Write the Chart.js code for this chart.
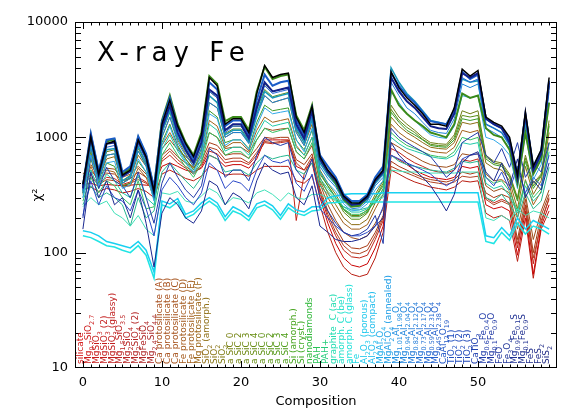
<!DOCTYPE html>
<html>
<head>
<meta charset="utf-8">
<script src="https://cdn.jsdelivr.net/npm/chart.js@4.4.0/dist/chart.umd.min.js"></script>
<style>
  html, body { margin: 0; padding: 0; background: #fff; }
  canvas { display: block; }
</style>
</head>
<body>
<canvas id="chart" width="581" height="415"></canvas>
<script>
// composition names (x = 0..59), _{..} marks a subscript
const compositions = [
  'silicate', 'Mg_{0.7}SiO_{2.7}', 'MgSiO_{3}', 'MgSiO_{3} (2)', 'MgSiO_{3} (glassy)',
  'Mg_{1.5}SiO_{3.5}', 'Mg_{2}SiO_{4}', 'Mg_{2}SiO_{4} (2)', 'MgFeSiO_{4}', 'Mg_{2.4}SiO_{4.4}',
  'Ca protosilicate (A)', 'Ca protosilicate (B)', 'Ca protosilicate (C)', 'Fe protosilicate (D)',
  'Fe protosilicate (E)', 'Mg protosilicate (F)', 'SiO_{2} (amorph.)', 'SiO_{2}', 'SiO_{2}',
  'a SiC 0', 'a SiC 2', 'a SiC 3', 'a SiC 4', 'a SiC 0', 'a SiC 2', 'a SiC 3', 'a SiC 4',
  'Si (amorph.)', 'Si (cryst.)', 'nanodiamonds', 'PAH', 'PAH+',
  'graphite  C (ac)', 'amorph. C (be)', 'amorph. C (glass)', 'Fe',
  'Al_{2}O_{3} (porous)', 'Al_{2}O_{3} (compact)', 'MgAl_{2}O_{4}', 'MgAl_{2}O_{4} (annealed)',
  'Mg_{1.01}Al_{1.98}O_{4}', 'Mg_{0.94}Al_{2.04}O_{4}', 'Mg_{0.82}Al_{2.12}O_{4}',
  'Mg_{0.73}Al_{2.17}O_{4}', 'Mg_{0.59}Al_{2.31}O_{4}', 'Mg_{0.45}Al_{2.38}O_{4}',
  'CaAl_{12}O_{19}', 'TiO_{2} (1)', 'TiO_{2} (2)', 'TiO_{2} (3)', 'CaTiO_{3}',
  'Mg_{0.6}Fe_{0.4}O', 'Mg_{0.1}Fe_{0.9}O', 'FeO', 'Fe_{3}O_{4}',
  'Mg_{0.9}Fe_{0.1}S', 'Mg_{0.1}Fe_{0.9}S', 'FeS', 'FeS_{2}', 'SiS_{2}'
];
const labelColors = [
  '#d41414', '#cc1a1a', '#c81c1c', '#c41e1e', '#c02020', '#bc2222', '#b82424', '#b42626', '#b02828', '#ac2a2a',
  '#a8501e', '#a8521e', '#a6541e', '#a45a1c', '#a25e1c', '#9c661a', '#907018', '#887616', '#807c14',
  '#7a8214', '#748614', '#6e8a14', '#688e14', '#629216', '#5c9618', '#569a1a', '#509e1c',
  '#48a420', '#40aa24', '#30b83a', '#28c456', '#24cc7a', '#20dcb0', '#20e0c8', '#20e0d8', '#20d8e4',
  '#20c8ec', '#20bcec', '#20acea', '#209ee6', '#208ee0', '#2084dc', '#207ad8', '#2070d4', '#2066d0', '#205ecc',
  '#2056c6', '#2050c0', '#204abb', '#2046b6', '#2040b0', '#203caa', '#2038a4', '#20369e', '#203498',
  '#203294', '#203090', '#202e8c', '#202c88', '#202a84'
];
const yTickValues = [10, 100, 1000, 10000];
const xTickValues = [0, 10, 20, 30, 40, 50];

// chi^2 per composition, one array per curve
const red1 = [390,400,380,390,385,380,385,390,385,380, 560,600,560,520,500,540,700,650,560,580, 580,540,650,950,950,950,950,560,520,600, 300,180,120,90,78,75,80,110,170,700, 640,580,520,480,450,440,430,450,560,540, 560,260,240,250,230,95,230,65,170,260];
const red2 = [420,470,400,450,440,390,410,450,410,360, 620,700,600,540,480,560,760,720,600,620, 620,580,700,900,880,900,920,190,480,650, 330,200,140,105,92,90,95,130,190,800, 740,660,600,560,520,500,490,520,640,620, 650,300,270,290,270,110,260,80,190,290];
const red3 = [350,370,340,360,350,330,340,360,340,300, 480,520,480,440,420,460,560,520,470,480, 480,460,520,560,560,560,560,420,400,460, 260,150,100,75,65,62,65,90,150,520, 480,440,410,390,370,360,350,370,420,410, 420,220,200,210,190,84,200,60,160,230];
const red4 = [450,520,430,490,480,420,440,500,450,380, 700,800,680,600,550,620,900,850,700,720, 720,660,800,1000,980,1000,1000,640,580,720, 360,230,165,125,110,108,115,150,210,620, 560,520,480,450,430,420,410,430,500,480, 500,330,300,320,300,130,290,100,210,320];
const red5 = [480,580,460,540,530,450,480,560,480,400, 800,950,780,680,600,700,1100,1000,800,820, 820,740,950,1200,1150,1180,1200,750,650,850, 400,260,190,150,135,130,140,180,240,900, 820,740,680,620,580,560,550,580,720,700, 720,380,340,360,330,160,320,130,230,350];
const brownRed = [400,450,390,430,420,380,400,430,400,350, 650,760,640,560,500,580,820,780,640,660, 660,600,740,920,900,920,940,600,520,680, 340,215,150,115,100,98,105,140,200,560, 520,490,460,430,410,400,390,410,460,450, 460,290,260,280,260,120,250,90,180,300];
const brown1 = [330,560,400,520,500,370,380,540,450,300, 850,1100,820,650,540,680,1400,1250,820,900, 900,760,1150,1500,1350,1400,1450,850,700,1000, 420,300,230,180,160,160,175,240,320,1300, 1100,980,900,820,760,740,730,820,1150,1100, 1150,480,420,430,380,200,430,260,340,900];
const olive1 = [350,800,450,750,780,420,470,800,600,320, 1150,1800,1100,800,620,900,2500,2200,1150,1250, 1250,1000,1900,2900,2500,2600,2700,1250,950,1500, 520,400,320,240,210,210,235,320,420,1900, 1500,1300,1150,1000,900,880,870,1050,1700,1600, 1700,700,620,600,480,300,700,400,480,1400];
const olive2 = [340,700,430,650,680,400,440,700,560,310, 1000,1500,950,720,560,800,2000,1800,1000,1100, 1100,900,1600,2300,2000,2100,2200,1100,850,1300, 450,330,260,200,175,175,195,270,360,1500, 1250,1100,1000,900,820,800,790,900,1350,1300, 1350,600,540,520,420,240,560,320,420,1100];
const olive3 = [330,750,430,700,720,400,450,760,580,310, 1100,1650,1000,760,600,860,2300,2000,1080,1180, 1180,950,1750,2600,2250,2350,2450,1150,900,1400, 500,380,300,225,195,195,220,300,400,1750, 1400,1220,1100,960,870,850,840,1000,1550,1500, 1550,680,600,580,460,290,660,380,470,1300];
const green1 = [320,650,400,600,560,380,400,620,500,290, 900,1300,850,650,520,750,1700,1500,900,950, 950,800,1350,1900,1700,1750,1800,950,780,1150, 480,380,300,235,205,205,225,300,380,1650, 1350,1150,1050,950,850,830,820,950,1450,1400, 1450,650,580,560,450,280,620,360,460,1250];
const green2 = [280,450,330,420,380,300,260,420,240,250, 700,900,700,550,450,600,1100,1000,700,750, 750,650,950,1200,1100,1150,1200,750,650,900, 420,340,290,240,215,215,230,280,340,1100, 950,850,800,750,700,680,670,750,1000,950, 1000,450,400,420,340,230,420,300,360,900];
const green3 = [260,380,300,330,300,260,170,300,200,230, 500,600,500,420,360,450,700,650,500,520, 520,470,600,700,650,680,700,520,480,600, 380,320,280,250,235,235,245,270,320,700, 620,580,560,540,520,510,500,540,620,600, 620,300,280,320,260,200,330,240,280,550];
const teal2 = [300,520,360,480,420,330,300,470,300,260, 780,1050,760,600,480,650,1300,1150,760,820, 820,700,1050,1400,1250,1300,1350,820,700,1000, 440,360,300,250,225,225,240,290,350,1000, 880,800,760,720,680,660,650,700,900,870, 900,400,360,380,310,220,380,280,330,750];
const cyan1 = [140,135,125,115,112,105,100,115,95,60, 260,245,275,200,215,250,280,250,190,230, 215,190,245,260,235,195,245,220,210,230, 235,270,272,275,275,275,275,275,275,275, 275,275,275,275,275,275,275,275,275,275, 275,125,120,150,128,180,145,170,160,145];
const cyan2 = [155,150,140,125,120,115,110,125,105,68, 280,265,295,215,230,270,300,270,205,250, 230,205,265,280,255,210,265,235,225,250, 250,300,310,320,325,325,325,325,330,330, 330,330,330,330,330,330,330,330,330,330, 330,140,135,165,140,200,160,190,175,160];
const cyan3 = [250,300,260,280,220,200,170,210,160,140, 330,320,340,280,270,310,360,330,260,300, 290,270,330,350,320,280,330,300,290,320, 320,300,290,280,270,270,275,285,300,520, 510,500,500,495,490,490,490,490,500,500, 500,200,190,210,190,240,210,230,220,200];
const navy1 = [160,500,300,420,260,300,200,350,180,75, 220,300,260,200,180,230,420,380,260,330, 300,240,420,600,520,480,500,300,260,380, 170,150,130,125,125,130,140,170,200,900, 700,600,520,450,380,300,230,320,600,700, 750,500,420,600,380,650,300,420,350,600];
const navy2 = [200,700,360,550,420,380,300,500,300,180, 400,600,450,350,300,380,800,700,450,520, 520,420,700,1000,900,850,900,520,430,650, 300,230,180,150,140,145,160,210,120,1200, 1000,900,820,750,680,560,450,520,900,1000, 1100,700,600,800,550,900,450,600,500,900];
const navy3 = [210,420,260,380,300,280,230,350,240,140, 350,450,380,300,260,330,600,520,360,420, 400,340,520,700,620,600,640,400,340,480, 240,200,170,150,140,140,150,170,250,700, 650,600,560,520,480,420,380,420,650,700, 720,450,380,500,350,560,330,450,380,700];
const blue1 = [330,820,420,700,720,400,440,760,560,300, 1000,1500,900,700,560,800,2000,1800,1000,1100, 1100,880,1500,2300,2000,2100,2200,1100,850,1400, 560,440,370,280,240,245,280,380,450,3000, 2300,1800,1600,1350,1150,1100,1080,1450,2900,2700, 2900,1200,1100,1000,800,400,1300,480,650,2500];
const blue2 = [300,700,380,600,620,360,390,650,500,280, 850,1250,800,620,500,700,1600,1450,850,950, 950,780,1250,1800,1600,1650,1700,950,750,1200, 500,400,340,265,230,235,265,350,420,2500, 2000,1600,1400,1200,1050,1000,980,1250,2300,2200, 2300,1000,950,850,700,360,1100,430,580,2000];
const blue3 = [350,950,460,820,850,450,500,890,640,330, 1150,1800,1050,780,610,900,2500,2200,1100,1250, 1250,960,1800,2800,2400,2500,2600,1250,950,1600, 620,500,400,300,260,262,300,410,500,3300, 2600,2050,1800,1500,1250,1200,1180,1600,3300,3000, 3200,1300,1200,1100,880,440,1450,520,700,2800];
const teal = [340,900,440,780,800,420,460,840,600,310, 1100,1700,1000,760,600,880,2300,2000,1050,1150, 1150,920,1600,2500,2200,2300,2400,1200,900,1500, 600,470,390,290,255,258,290,400,480,4000, 3000,2400,2050,1700,1400,1350,1300,1750,3200,3000, 3100,1300,1200,1100,850,420,1400,500,700,2800];
const darkGreen = [370,1050,500,920,960,480,540,1000,700,360, 1400,2300,1300,900,700,1100,3400,2900,1380,1500, 1500,1150,2500,4100,3200,3400,3500,1550,1150,1900, 650,500,400,290,250,255,300,420,500,2600, 1900,1600,1400,1250,1100,1050,1000,1300,2400,2200, 2300,1200,1050,1000,780,400,1100,480,650,2000];
const blueTop = [380,1080,510,950,980,500,560,1020,720,370, 1350,2200,1200,850,650,1000,3000,2600,1250,1400, 1400,1050,2100,3500,2800,3000,3100,1400,1050,1800, 700,560,450,320,280,280,320,450,560,3600, 2800,2300,2000,1650,1380,1340,1300,1700,3700,3200, 3500,1450,1300,1200,950,480,1550,560,760,3100];
const navyTop = [360,1000,470,880,900,460,510,930,660,330, 1200,1900,1100,780,600,900,2600,2300,1150,1300, 1300,980,1800,3000,2500,2600,2700,1300,980,1700, 650,500,420,300,260,265,300,420,500,3300, 2500,2050,1800,1500,1250,1200,1180,1600,3600,3300, 3600,1450,1300,1200,900,440,1600,520,720,3000];
const black = [390,1000,480,880,930,470,520,950,680,340, 1300,2100,1250,880,680,1050,3300,2800,1300,1450, 1450,1100,2400,4200,3300,3500,3600,1500,1100,1850, 680,520,430,310,270,270,310,430,520,3700, 2700,2200,1900,1600,1300,1300,1250,1800,3900,3400, 3800,1500,1350,1250,1000,470,1650,560,780,3300];

// drawing order: first entry is drawn first (bottom)
const curves = [
  [red3, '#b81c10', 1], [red1, '#c80000', 1], [red2, '#c02418', 1], [brownRed, '#b04020', 1],
  [red4, '#a83a14', 1], [red5, '#9c4c18', 1],
  [brown1, '#a26018', 1], [olive2, '#8c6c12', 1], [olive1, '#6e7c12', 1], [olive3, '#5a8c14', 1],
  [green3, '#28b890', 1], [green2, '#34c060', 1], [green1, '#3a9a28', 1], [teal2, '#20c8a8', 1],
  [cyan3, '#40e0b8', 1], [cyan1, '#20e4e4', 1.5], [cyan2, '#18d0f0', 1.5],
  [navy3, '#2a48c8', 1], [navy1, '#1a2890', 1], [navy2, '#223aa8', 1],
  [blue2, '#30a8e8', 1], [blue1, '#1a80d8', 1], [teal, '#1898b8', 1.5], [blue3, '#2468d8', 1],
  [darkGreen, '#3a8a1a', 2], [blueTop, '#1a5cc8', 2], [navyTop, '#12208a', 2], [black, '#000000', 1.5]
];

function drawRich(ctx, text, size) {
  const parts = text.split(/_\{([^}]*)\}/);
  let pos = 0;
  parts.forEach((p, k) => {
    const sub = k % 2 === 1;
    ctx.font = (sub ? size * 0.72 : size) + 'px "DejaVu Sans"';
    ctx.fillText(p, pos, sub ? size * 0.3 : 0);
    pos += ctx.measureText(p).width;
  });
}

const frame = {
  id: 'frame',
  afterDatasetsDraw(chart) {
    const { ctx, chartArea: a, scales: { x, y } } = chart;
    ctx.save();
    ctx.strokeStyle = '#000';
    ctx.lineWidth = 1;
    ctx.strokeRect(a.left + 0.5, a.top + 0.5, a.right - a.left - 1, a.bottom - a.top - 1);
    ctx.beginPath();
    for (let v = 0; v < 60; v++) {
      const px = Math.round(x.getPixelForValue(v)) + 0.5;
      const len = v % 10 === 0 ? 7 : 3.5;
      ctx.moveTo(px, a.bottom); ctx.lineTo(px, a.bottom - len);
      ctx.moveTo(px, a.top); ctx.lineTo(px, a.top + len);
    }
    for (let d = 10; d < 10000; d *= 10) {
      for (let m = 1; m < 10; m++) {
        if (d === 10 && m === 1) continue;
        const py = Math.round(y.getPixelForValue(d * m)) + 0.5;
        const len = m === 1 ? 11 : 6;
        ctx.moveTo(a.left, py); ctx.lineTo(a.left + len, py);
        ctx.moveTo(a.right, py); ctx.lineTo(a.right - len, py);
      }
    }
    ctx.stroke();

    // composition names along the bottom
    compositions.forEach((name, i) => {
      ctx.save();
      ctx.translate(Math.round(x.getPixelForValue(i)), a.bottom - 4);
      ctx.rotate(-Math.PI / 2);
      ctx.fillStyle = labelColors[i];
      ctx.textBaseline = 'alphabetic';
      drawRich(ctx, name, 9);
      ctx.restore();
    });

    ctx.fillStyle = '#000';
    ctx.font = '26px "DejaVu Sans"';
    ctx.letterSpacing = '6px';
    ctx.fillText('X-ray Fe', 97, 61);
    ctx.restore();
  }
};

const indices = compositions.map((c, i) => i);
const tickFont = { family: 'DejaVu Sans', size: 13 };

new Chart(document.getElementById('chart'), {
  type: 'line',
  data: {
    datasets: curves.slice().reverse().map(([vals, color, width]) => ({
      data: indices.map(i => ({ x: i, y: vals[i] })),
      borderColor: color,
      borderWidth: width,
      pointRadius: 0,
      tension: 0,
      fill: false
    }))
  },
  options: {
    responsive: false,
    animation: false,
    devicePixelRatio: 1,
    layout: { padding: { top: 22, right: 24, left: 0, bottom: 0 } },
    plugins: { legend: { display: false }, tooltip: { enabled: false } },
    scales: {
      x: {
        type: 'linear', min: -1, max: 60,
        afterFit: s => { s.height = 47; },
        grid: { display: false, drawTicks: false },
        border: { display: false },
        afterBuildTicks: s => { s.ticks = xTickValues.map(v => ({ value: v })); },
        ticks: { color: '#000', font: tickFont, padding: 7, maxRotation: 0, autoSkip: false },
        title: { display: true, text: 'Composition', color: '#000', font: tickFont, padding: { top: 0, bottom: 6 } }
      },
      y: {
        type: 'logarithmic', min: 10, max: 10000,
        afterFit: s => { s.width = 75; },
        grid: { display: false, drawTicks: false },
        border: { display: false },
        afterBuildTicks: s => { s.ticks = yTickValues.map(v => ({ value: v })); },
        ticks: { color: '#000', font: tickFont, padding: 7, autoSkip: false, callback: v => String(v) },
        title: { display: true, text: 'χ²', color: '#000', font: tickFont, padding: { top: 30, bottom: 0 } }
      }
    }
  },
  plugins: [frame]
});
</script>
</body>
</html>
